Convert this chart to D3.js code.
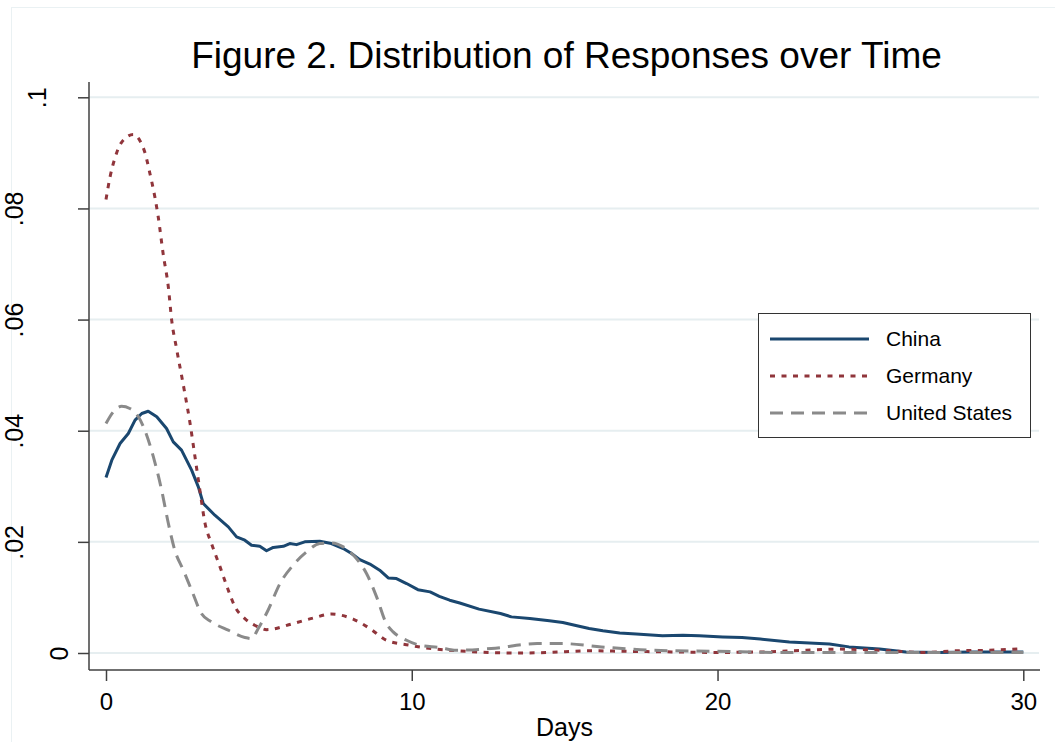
<!DOCTYPE html>
<html>
<head>
<meta charset="utf-8">
<script src="https://cdn.jsdelivr.net/npm/d3@7"></script>
<style>
  body { margin: 0; background: #fff; }
  svg { display: block; font-family: "Liberation Sans", Arial, sans-serif; }
</style>
</head>
<body>
<div id="chart"></div>
<script>
// ---------------------------------------------------------------- data
const countries = ["China", "Germany", "United States"];

const chinaDays = [0, 0.19, 0.46, 0.73, 0.95, 1.17, 1.38, 1.66, 1.98, 2.2, 2.47, 2.8, 3.02, 3.18, 3.56, 4.0, 4.27, 4.54, 4.76, 5.03, 5.25, 5.47, 5.8, 6.01, 6.23, 6.5, 6.99, 7.37, 7.76, 8.03, 8.3, 8.63, 8.95, 9.23, 9.5, 9.83, 10.2, 10.6, 10.9, 11.24, 11.57, 12.2, 12.9, 13.26, 13.86, 14.5, 14.94, 15.33, 15.8, 16.25, 16.8, 17.34, 18.2, 18.87, 19.4, 20.17, 20.8, 21.4, 22.35, 23.66, 24.3, 25.3, 26.16, 27.25, 28.3, 30];
const chinaValues = [0.0316, 0.0347, 0.0377, 0.0395, 0.0419, 0.0431, 0.0435, 0.0425, 0.0404, 0.0380, 0.0365, 0.0329, 0.0299, 0.0269, 0.0248, 0.0227, 0.0209, 0.0203, 0.0194, 0.0192, 0.0184, 0.0190, 0.0192, 0.0197, 0.0195, 0.0200, 0.0201, 0.0197, 0.0188, 0.0179, 0.0168, 0.0160, 0.0149, 0.0135, 0.0134, 0.0125, 0.0114, 0.0110, 0.0102, 0.0095, 0.0090, 0.0079, 0.0071, 0.0065, 0.0062, 0.0058, 0.0055, 0.0050, 0.0044, 0.0040, 0.0036, 0.0034, 0.0031, 0.0032, 0.0031, 0.0029, 0.0028, 0.0025, 0.0020, 0.0016, 0.0011, 0.0007, 0.0002, 0.0001, 0.0002, 0.0002];

const germanyDays = [0, 0.13, 0.3, 0.51, 0.89, 1.11, 1.27, 1.44, 1.6, 1.71, 1.87, 2.04, 2.15, 2.3, 2.56, 2.75, 2.91, 3.07, 3.24, 3.45, 3.73, 4.0, 4.22, 4.54, 4.98, 5.25, 6.12, 6.78, 7.37, 8.08, 8.63, 9.17, 9.93, 10.8, 11.5, 12.5, 13.5, 14.5, 15.8, 17, 18.5, 20, 21.5, 22.9, 24.0, 25.6, 26.7, 27.8, 28.9, 30];
const germanyValues = [0.0816, 0.0856, 0.0892, 0.0919, 0.0933, 0.0922, 0.0901, 0.0862, 0.0820, 0.0784, 0.0718, 0.0658, 0.0598, 0.0550, 0.0473, 0.0413, 0.0353, 0.0293, 0.0233, 0.0197, 0.0155, 0.0113, 0.0083, 0.0062, 0.0047, 0.0042, 0.0053, 0.0063, 0.0070, 0.0061, 0.0044, 0.0023, 0.0014, 0.0007, 0.0004, 0.0001, 0.0000, 0.0001, 0.0004, 0.0003, 0.0002, 0.0001, 0.0002, 0.0005, 0.0007, 0.0004, 0.0001, 0.0004, 0.0005, 0.0008];

const usDays = [0, 0.24, 0.51, 0.78, 1.06, 1.27, 1.55, 1.82, 2.04, 2.25, 2.53, 2.8, 3.12, 3.45, 4.0, 4.54, 4.76, 4.98, 5.3, 5.69, 6.12, 6.56, 6.99, 7.37, 7.76, 8.19, 8.52, 8.85, 9.17, 9.39, 9.83, 10.26, 10.9, 11.46, 12.6, 14.1, 14.9, 16.2, 17.8, 20, 22, 30];
const usValues = [0.0413, 0.0434, 0.0444, 0.0440, 0.0425, 0.0401, 0.0353, 0.0293, 0.0233, 0.0185, 0.0149, 0.0113, 0.0071, 0.0056, 0.0041, 0.0028, 0.0026, 0.0044, 0.0077, 0.0125, 0.0158, 0.0182, 0.0197, 0.0198, 0.0191, 0.0170, 0.0143, 0.0101, 0.0053, 0.0038, 0.0023, 0.0014, 0.0010, 0.0005, 0.0008, 0.0017, 0.0017, 0.0011, 0.0005, 0.0003, 0.0001, 0.0001];

const xTicks = [0, 10, 20, 30];
const yTicks = [0, 0.02, 0.04, 0.06, 0.08, 0.1];
const yTickLabels = ["0", ".02", ".04", ".06", ".08", ".1"];

// ---------------------------------------------------------------- layout
const width = 1055;
const height = 742;
const plot = { left: 89, right: 1040, top: 82, bottom: 670 };
const font = "'Liberation Sans', Arial, sans-serif";

const colors = ["#1a476f", "#90353b", "#8a8a8a"];
const dashes = [null, "5 6.5", "13 8"];

const series = [
  { name: countries[0], pts: d3.zip(chinaDays, chinaValues), curve: d3.curveLinear },
  { name: countries[1], pts: d3.zip(germanyDays, germanyValues), curve: d3.curveMonotoneX },
  { name: countries[2], pts: d3.zip(usDays, usValues), curve: d3.curveMonotoneX }
];

// ---------------------------------------------------------------- scales
const x = d3.scaleLinear().domain([0, 30]).range([106, 1023.3]);
const y = d3.scaleLinear().domain([0, 0.1]).range([653, 97.3]);

const svg = d3.select("#chart").append("svg")
  .attr("width", width)
  .attr("height", height);

// faint outer graph region border
svg.append("rect")
  .attr("x", 11.5).attr("y", 7.5)
  .attr("width", width + 20).attr("height", height + 20)
  .attr("fill", "none")
  .attr("stroke", "#eaf1f3")
  .attr("stroke-width", 1);

// ---------------------------------------------------------------- grid
svg.append("g").selectAll("line")
  .data(yTicks)
  .enter().append("line")
  .attr("x1", plot.left).attr("x2", plot.right - 1)
  .attr("y1", d => y(d)).attr("y2", d => y(d))
  .attr("stroke", "#e6eef0")
  .attr("stroke-width", 2);

// ---------------------------------------------------------------- lines
const line = d3.line()
  .x(d => x(d[0]))
  .y(d => y(d[1]));

series.forEach((s, i) => {
  svg.append("path")
    .datum(s.pts)
    .attr("d", line.curve(s.curve))
    .attr("fill", "none")
    .attr("stroke", colors[i])
    .attr("stroke-width", 3)
    .attr("stroke-dasharray", dashes[i])
    .attr("stroke-linejoin", "round");
});

// ---------------------------------------------------------------- axes
const xAxis = d3.axisBottom(x).tickValues(xTicks).tickSize(11).tickSizeOuter(0);
const yAxis = d3.axisLeft(y).tickValues(yTicks).tickSize(11).tickSizeOuter(0)
  .tickFormat((d, i) => yTickLabels[i]);

const gx = svg.append("g")
  .attr("transform", "translate(0," + plot.bottom + ")")
  .call(xAxis);
gx.select(".domain").remove();
gx.selectAll(".tick line").attr("stroke", "#404040").attr("stroke-width", 1.5);
gx.selectAll(".tick text")
  .attr("y", 40).attr("dy", null)
  .attr("fill", "#000")
  .style("font-size", "24px")
  .style("font-family", font);

const gy = svg.append("g")
  .attr("transform", "translate(" + plot.left + ",0)")
  .call(yAxis);
gy.select(".domain").remove();
gy.selectAll(".tick line").attr("stroke", "#404040").attr("stroke-width", 1.5);
gy.selectAll(".tick text")
  .attr("x", null).attr("dy", null)
  .attr("text-anchor", "middle")
  .attr("fill", "#000")
  .style("font-size", "25px")
  .style("font-family", font)
  .attr("transform", (d, i) => {
    const bx = 68 - (yTickLabels[i].length - 1) * 22.5 - plot.left;
    return "translate(" + bx + ",0) rotate(-90)";
  });

// axis lines
svg.append("line")
  .attr("x1", plot.left).attr("x2", plot.left)
  .attr("y1", plot.top).attr("y2", plot.bottom)
  .attr("stroke", "#404040").attr("stroke-width", 1.5);
svg.append("line")
  .attr("x1", plot.left).attr("x2", plot.right)
  .attr("y1", plot.bottom).attr("y2", plot.bottom)
  .attr("stroke", "#404040").attr("stroke-width", 1.5);

// ---------------------------------------------------------------- text
svg.append("text")
  .attr("x", (plot.left + plot.right) / 2 + 2)
  .attr("y", 68)
  .attr("text-anchor", "middle")
  .style("font-size", "37px")
  .text("Figure 2. Distribution of Responses over Time");

svg.append("text")
  .attr("x", (plot.left + plot.right) / 2)
  .attr("y", 736)
  .attr("text-anchor", "middle")
  .style("font-size", "25px")
  .text("Days");

// ---------------------------------------------------------------- legend
const legend = svg.append("g").attr("transform", "translate(758,313)");
legend.append("rect")
  .attr("x", 0.5).attr("y", 0.5)
  .attr("width", 272).attr("height", 124)
  .attr("fill", "#fff")
  .attr("stroke", "#333")
  .attr("stroke-width", 1);

const item = legend.selectAll(".item")
  .data(countries)
  .enter().append("g")
  .attr("class", "item")
  .attr("transform", (d, i) => "translate(0," + (26 + i * 37) + ")");

item.append("line")
  .attr("x1", 12).attr("x2", 111)
  .attr("stroke", (d, i) => colors[i])
  .attr("stroke-width", 3)
  .attr("stroke-dasharray", (d, i) => dashes[i]);

item.append("text")
  .attr("x", 128)
  .attr("y", 7)
  .style("font-size", "21px")
  .text(d => d);
</script>
</body>
</html>
